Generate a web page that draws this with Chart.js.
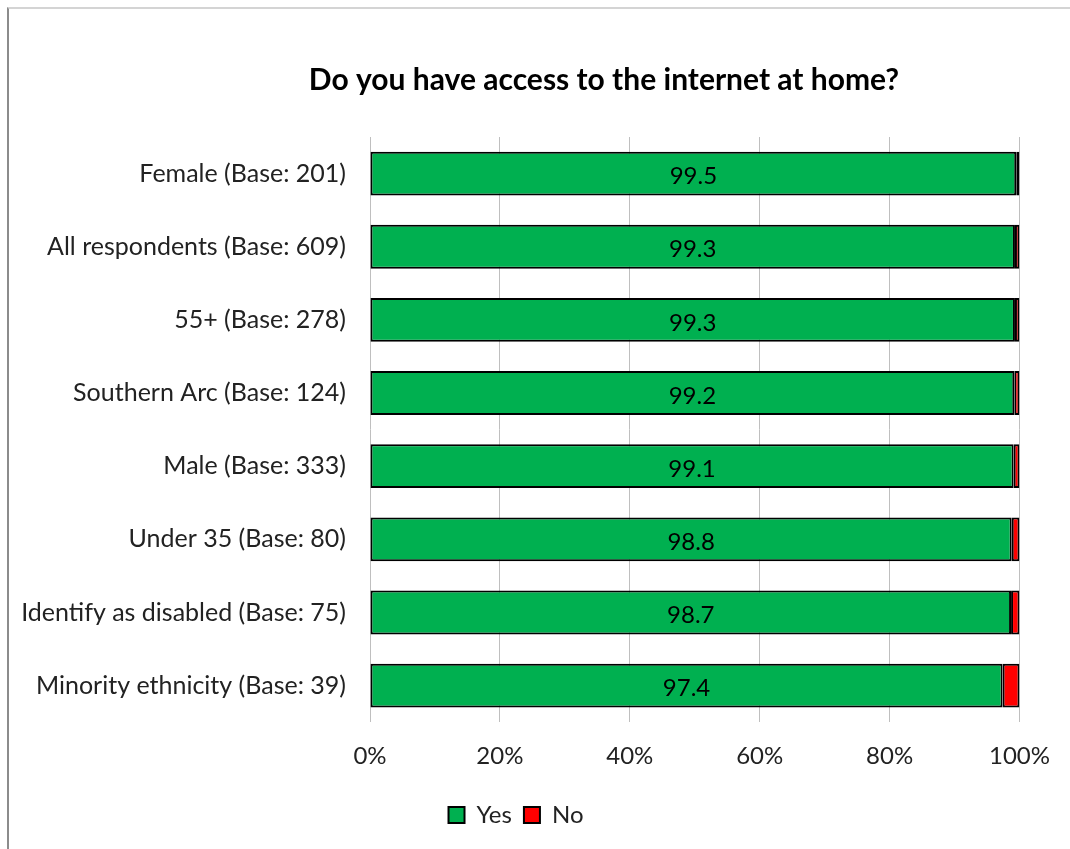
<!DOCTYPE html>
<html>
<head>
<meta charset="utf-8">
<script src="https://cdn.jsdelivr.net/npm/chart.js@4"></script>
<style>
  html, body { margin: 0; padding: 0; background: #fff; }
  #wrap { position: relative; width: 1070px; height: 849px; }
  #frame { position: absolute; left: 7px; top: 7px; right: 0; bottom: 0;
           border-left: 2px solid #8c8c8c; border-top: 2px solid #d4d4d4; }
  canvas { position: absolute; left: 0; top: 0; }
</style>
</head>
<body>
<div id="wrap">
  <div id="frame"></div>
  <canvas id="chart" width="1070" height="849"></canvas>
</div>
<script>
const groups = [
  "Female (Base: 201)",
  "All respondents (Base: 609)",
  "55+ (Base: 278)",
  "Southern Arc (Base: 124)",
  "Male (Base: 333)",
  "Under 35 (Base: 80)",
  "Identify as disabled (Base: 75)",
  "Minority ethnicity (Base: 39)"
];
const yesPct = [99.5, 99.3, 99.3, 99.2, 99.1, 98.8, 98.7, 97.4];
const noPct  = [0.5, 0.7, 0.7, 0.8, 0.9, 1.2, 1.3, 2.6];
const xTicks = [0, 20, 40, 60, 80, 100];
const chartTitle = "Do you have access to the internet at home?";

const FONT = "Lato, 'Open Sans', sans-serif";

// title sits a bit right of the canvas centre, over the bars
const titleText = {
  id: "titleText",
  afterDraw(chart) {
    const ctx = chart.ctx;
    ctx.save();
    ctx.font = "bold 30px " + FONT;
    ctx.fillStyle = "#000";
    ctx.textAlign = "center";
    ctx.textBaseline = "middle";
    ctx.fillText(chartTitle, 604, 80);
    ctx.restore();
  }
};

// value text in the middle of each green bar
const yesLabels = {
  id: "yesLabels",
  afterDatasetsDraw(chart) {
    const ctx = chart.ctx;
    const meta = chart.getDatasetMeta(0);
    ctx.save();
    ctx.font = "24px " + FONT;
    ctx.fillStyle = "#000";
    ctx.textAlign = "center";
    ctx.textBaseline = "middle";
    meta.data.forEach((bar, i) => {
      const p = bar.getProps(["x", "y", "base"], true);
      ctx.fillText(yesPct[i].toFixed(1), (p.x + p.base) / 2, p.y + 3);
    });
    ctx.restore();
  }
};

new Chart(document.getElementById("chart"), {
  type: "bar",
  data: {
    labels: groups,
    datasets: [
      { label: "Yes", data: yesPct, backgroundColor: "#00B050", borderColor: "#000", borderWidth: 2, borderSkipped: false },
      { label: "No", data: noPct, backgroundColor: "#FF0000", borderColor: "#000", borderWidth: 2, borderSkipped: false }
    ]
  },
  options: {
    indexAxis: "y",
    responsive: false,
    animation: false,
    barPercentage: 0.6,
    categoryPercentage: 1,
    layout: { padding: { left: 12, right: 50, top: 137, bottom: 12 } },
    scales: {
      x: {
        stacked: true,
        min: 0, max: 100,
        afterBuildTicks: s => { s.ticks = xTicks.map(v => ({ value: v })); },
        grid: { color: "#bfbfbf", drawTicks: false },
        border: { display: false },
        ticks: { padding: 20, color: "#222", font: { family: FONT, size: 24 }, callback: v => v + "%" }
      },
      y: {
        stacked: true,
        afterFit: s => { s.width = 358; },
        grid: { display: false, drawTicks: false },
        border: { display: false },
        ticks: { padding: 24, color: "#222", font: { family: FONT, size: 25 } }
      }
    },
    plugins: {
      title: { display: false },
      legend: {
        position: "bottom",
        labels: {
          color: "#222",
          font: { family: FONT, size: 24 },
          boxWidth: 16, boxHeight: 16,
          padding: 12
        }
      },
      tooltip: { enabled: false }
    }
  },
  plugins: [yesLabels, titleText]
});
</script>
</body>
</html>
